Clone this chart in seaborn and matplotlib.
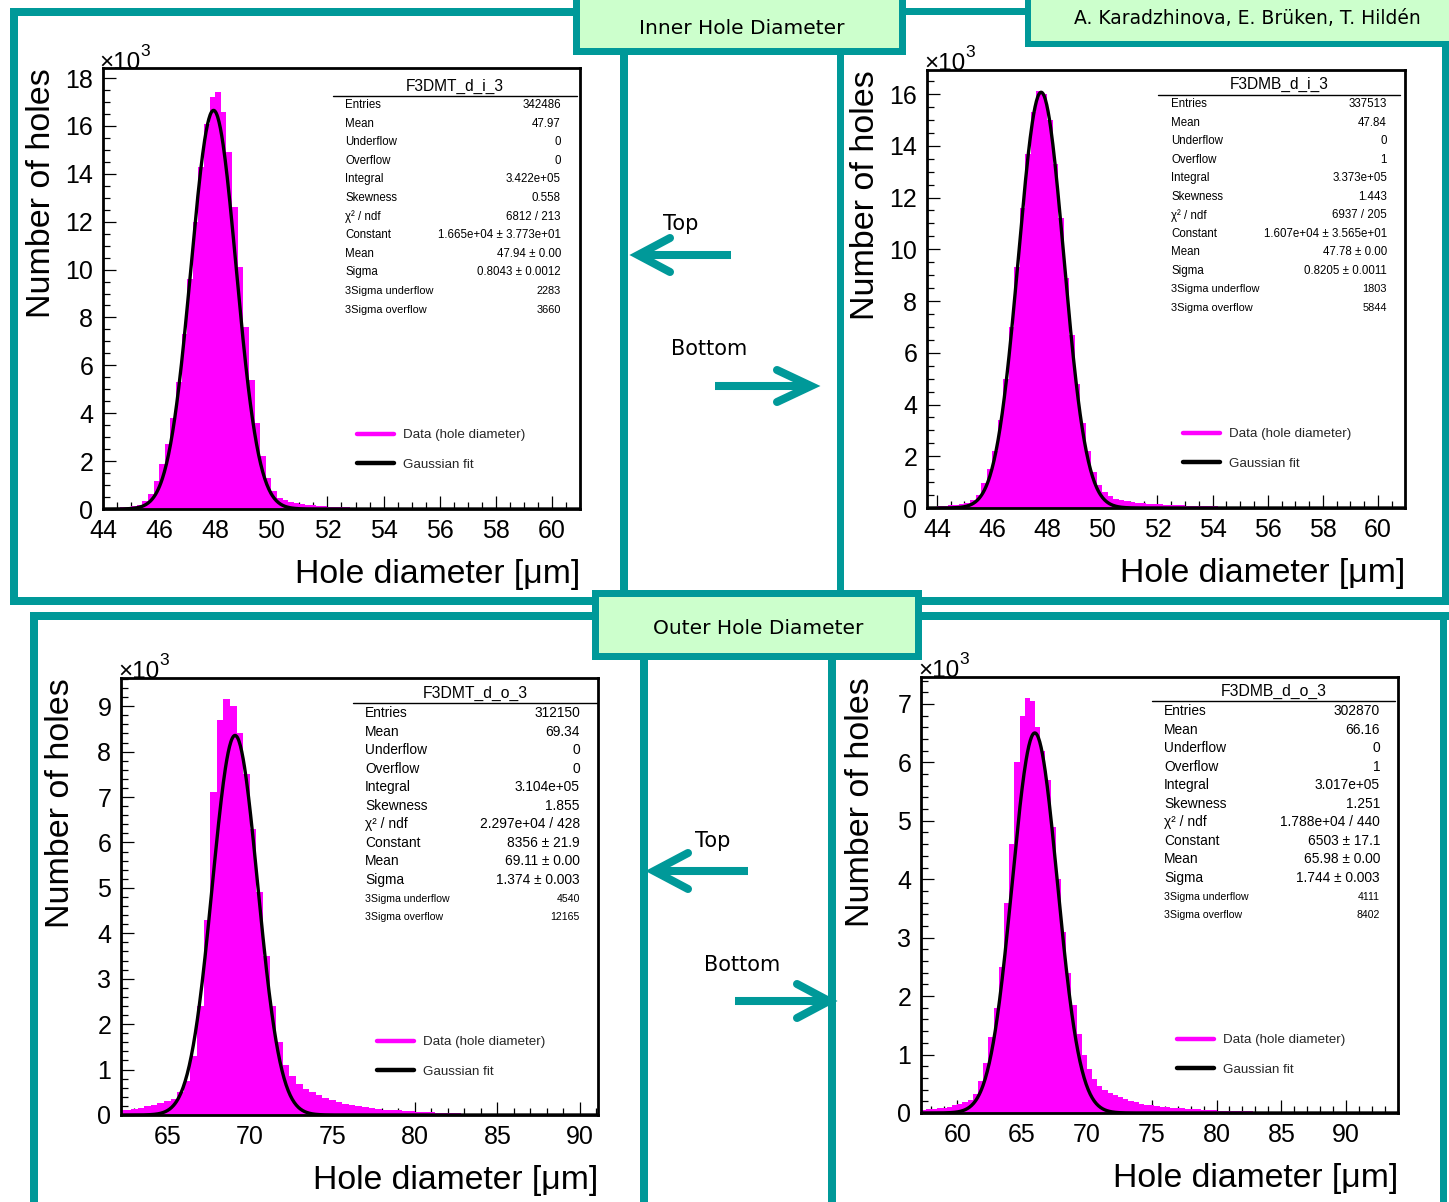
import numpy as np
import pandas as pd
import matplotlib
matplotlib.use("Agg")
import matplotlib.pyplot as plt
import seaborn as sns
from matplotlib.lines import Line2D
from matplotlib.patches import Rectangle
from matplotlib.ticker import MultipleLocator

# ------------------------------------------------------------------ data
STAT_LABELS = ["Entries", "Mean", "Underflow", "Overflow", "Integral", "Skewness",
               "χ² / ndf", "Constant", "Mean", "Sigma", "3Sigma underflow", "3Sigma overflow"]

# Top side, inner diameter
ti_name = "F3DMT_d_i_3"
ti_bin_start, ti_bin_width = 44.0, 0.2
ti_counts_k = [0.04, 0.05, 0.06, 0.07, 0.09, 0.12, 0.18, 0.33, 0.62, 1.15,
               1.9, 2.7, 3.8, 5.3, 7.3, 9.6, 12.0, 14.3, 16.1, 17.2,
               17.4, 16.6, 14.9, 12.6, 10.1, 7.6, 5.4, 3.6, 2.2, 1.3,
               0.75, 0.48, 0.36, 0.29, 0.24, 0.20, 0.17, 0.15, 0.13, 0.11,
               0.10, 0.09, 0.08, 0.07, 0.06, 0.06, 0.05, 0.05, 0.04, 0.04,
               0.03, 0.03, 0.02, 0.02, 0.02, 0.01, 0.01, 0.01]
ti_fit = (16650.0, 47.94, 0.8043)   # Constant, Mean, Sigma
ti_values = ["342486", "47.97", "0", "0", "3.422e+05", "0.558", "6812 / 213",
             "1.665e+04 ± 3.773e+01", "47.94 ± 0.00", "0.8043 ± 0.0012", "2283", "3660"]

# Bottom side, inner diameter
bi_name = "F3DMB_d_i_3"
bi_bin_start, bi_bin_width = 44.0, 0.2
bi_counts_k = [0.08, 0.09, 0.11, 0.13, 0.16, 0.21, 0.30, 0.52, 0.95, 1.5,
               2.2, 3.4, 5.0, 7.0, 9.3, 11.6, 13.7, 15.3, 16.1, 16.0,
               15.0, 13.3, 11.2, 8.9, 6.7, 4.8, 3.3, 2.2, 1.4, 0.9,
               0.60, 0.45, 0.36, 0.30, 0.26, 0.23, 0.21, 0.19, 0.17, 0.15,
               0.14, 0.13, 0.12, 0.11, 0.10, 0.09, 0.08, 0.08, 0.07, 0.06,
               0.06, 0.05, 0.05, 0.04, 0.04, 0.04, 0.03, 0.03, 0.03, 0.02,
               0.02, 0.02, 0.02, 0.01, 0.01, 0.01]
bi_fit = (16070.0, 47.78, 0.8205)
bi_values = ["337513", "47.84", "0", "1", "3.373e+05", "1.443", "6937 / 205",
             "1.607e+04 ± 3.565e+01", "47.78 ± 0.00", "0.8205 ± 0.0011", "1803", "5844"]

# Top side, outer diameter
to_name = "F3DMT_d_o_3"
to_bin_start, to_bin_width = 62.0, 0.4
to_counts_k = [0.10, 0.12, 0.14, 0.16, 0.19, 0.22, 0.26, 0.30, 0.36, 0.50,
               0.75, 1.30, 2.40, 4.30, 7.10, 8.70, 9.15, 9.00, 8.40, 7.50,
               6.30, 4.90, 3.50, 2.40, 1.60, 1.10, 0.85, 0.68, 0.57, 0.50,
               0.44, 0.38, 0.33, 0.29, 0.25, 0.22, 0.19, 0.17, 0.15, 0.13,
               0.12, 0.11, 0.10, 0.09, 0.08, 0.07, 0.06, 0.06, 0.05, 0.05,
               0.04, 0.04, 0.03, 0.03, 0.03, 0.02, 0.02, 0.02, 0.02, 0.01,
               0.01, 0.01, 0.01]
to_fit = (8356.0, 69.11, 1.374)
to_values = ["312150", "69.34", "0", "0", "3.104e+05", "1.855", "2.297e+04 / 428",
             "8356 ± 21.9", "69.11 ± 0.00", "1.374 ± 0.003", "4540", "12165"]

# Bottom side, outer diameter
bo_name = "F3DMB_d_o_3"
bo_bin_start, bo_bin_width = 57.2, 0.4
bo_counts_k = [0.05, 0.06, 0.07, 0.08, 0.09, 0.11, 0.13, 0.15, 0.18, 0.23,
               0.32, 0.55, 0.85, 1.30, 1.80, 2.50, 3.60, 4.60, 6.00, 6.80,
               7.10, 7.05, 6.60, 6.20, 5.70, 4.90, 4.00, 3.10, 2.40, 1.85,
               1.35, 1.00, 0.75, 0.58, 0.47, 0.40, 0.35, 0.31, 0.27, 0.24,
               0.21, 0.18, 0.16, 0.14, 0.13, 0.12, 0.11, 0.10, 0.09, 0.08,
               0.08, 0.07, 0.06, 0.06, 0.05, 0.05, 0.05, 0.04, 0.04, 0.04,
               0.03, 0.03, 0.03, 0.03, 0.02, 0.02, 0.02, 0.02, 0.02, 0.01,
               0.01, 0.01, 0.01, 0.01]
bo_fit = (6503.0, 65.98, 1.744)
bo_values = ["302870", "66.16", "0", "1", "3.017e+05", "1.251", "1.788e+04 / 440",
             "6503 ± 17.1", "65.98 ± 0.00", "1.744 ± 0.003", "4111", "8402"]

# ------------------------------------------------------------------ style
W, H = 1449, 1202
TEAL = "#009999"
GREEN = "#CCFFCC"
MAGENTA = "#FF00FF"

sns.set_theme(style="white")
plt.rcParams['font.family'] = ['Liberation Sans', 'DejaVu Sans']

fig = plt.figure(figsize=(W / 100, H / 100), dpi=100)
fig.patch.set_facecolor("white")


def fx(x):
    return x / W


def fy(y):
    return 1 - y / H


def rect(x0, y0, x1, y1, color, z=3):
    fig.add_artist(Rectangle((fx(x0), fy(y1)), (x1 - x0) / W, (y1 - y0) / H,
                             transform=fig.transFigure, facecolor=color,
                             edgecolor="none", zorder=z))


def fline(xs, ys, **kw):
    fig.add_artist(Line2D([fx(v) for v in xs], [fy(v) for v in ys],
                          transform=fig.transFigure, **kw))


# ------------------------------------------------------------------ panels
panels = [
    dict(name=ti_name, start=ti_bin_start, width=ti_bin_width, counts=ti_counts_k,
         fit=ti_fit, values=ti_values,
         box=(103, 68, 580, 509), xlim=(44, 61), ylim=(0, 18.42),
         xt=(2, 0.5), yt=(2, 0.5), ylab_x=57, xlab_y=559, mult=(99, 69),
         st=dict(x0=333, x1=577, ty=86, ly=96, r0=105, dy=18.6, lx=345, rx=561,
                 fs=8.3, fss=7.9, tfs=11.2),
         leg=(357, 429)),
    dict(name=bi_name, start=bi_bin_start, width=bi_bin_width, counts=bi_counts_k,
         fit=bi_fit, values=bi_values,
         box=(927, 70, 1405, 508), xlim=(43.64, 60.98), ylim=(0, 16.93),
         xt=(2, 0.5), yt=(2, 0.5), ylab_x=881, xlab_y=558, mult=(924, 70),
         st=dict(x0=1158, x1=1400, ty=84, ly=95, r0=104, dy=18.55, lx=1171, rx=1387,
                 fs=8.3, fss=7.9, tfs=11.2),
         leg=(1183, 428)),
    dict(name=to_name, start=to_bin_start, width=to_bin_width, counts=to_counts_k,
         fit=to_fit, values=to_values,
         box=(121, 678, 598, 1115), xlim=(62.2, 91.1), ylim=(0, 9.62),
         xt=(5, 1), yt=(1, 0.2), ylab_x=76, xlab_y=1165, mult=(118, 678),
         st=dict(x0=353, x1=597, ty=693, ly=703, r0=713, dy=18.55, lx=365, rx=580,
                 fs=9.9, fss=7.6, tfs=11.3),
         leg=(377, 1036)),
    dict(name=bo_name, start=bo_bin_start, width=bo_bin_width, counts=bo_counts_k,
         fit=bo_fit, values=bo_values,
         box=(921, 677, 1398, 1113), xlim=(57.2, 94.0), ylim=(0, 7.46),
         xt=(5, 1), yt=(1, 0.2), ylab_x=876, xlab_y=1163, mult=(918, 677),
         st=dict(x0=1152, x1=1395, ty=691, ly=701, r0=711, dy=18.55, lx=1164, rx=1380,
                 fs=9.9, fss=7.6, tfs=11.3),
         leg=(1177, 1034)),
]

for p in panels:
    l, t, r, b = p["box"]
    ax = fig.add_axes([fx(l), fy(b), (r - l) / W, (b - t) / H])
    ax.set_facecolor("white")

    counts = np.asarray(p["counts"], dtype=float)
    n = len(counts)
    centers = p["start"] + p["width"] * (np.arange(n) + 0.5)
    hist_df = pd.DataFrame({"diameter": centers, "count_k": counts})
    sns.histplot(data=hist_df, x="diameter", weights="count_k",
                 binwidth=p["width"], binrange=(p["start"], p["start"] + n * p["width"]),
                 element="step", fill=True, color=MAGENTA, alpha=1.0,
                 linewidth=0, ax=ax)

    C, mu, sig = p["fit"]
    xs = np.linspace(p["xlim"][0], p["xlim"][1], 700)
    fit_df = pd.DataFrame({"diameter": xs,
                           "fit_k": C * np.exp(-0.5 * ((xs - mu) / sig) ** 2) / 1000.0})
    sns.lineplot(data=fit_df, x="diameter", y="fit_k", color="black",
                 linewidth=2.4, ax=ax, estimator=None)

    ax.set_xlim(*p["xlim"])
    ax.set_ylim(*p["ylim"])
    ax.xaxis.set_major_locator(MultipleLocator(p["xt"][0]))
    ax.xaxis.set_minor_locator(MultipleLocator(p["xt"][1]))
    ax.yaxis.set_major_locator(MultipleLocator(p["yt"][0]))
    ax.yaxis.set_minor_locator(MultipleLocator(p["yt"][1]))
    ax.tick_params(which="both", direction="in", top=False, right=False,
                   bottom=True, left=True, color="black", width=0.9)
    ax.tick_params(which="major", length=9.2, labelsize=18, pad=7, labelcolor="black")
    ax.tick_params(which="minor", length=4.8)
    for s in ax.spines.values():
        s.set_color("black")
        s.set_linewidth(2.0)

    ax.set_ylabel("Number of holes", fontsize=24.5, loc="top", color="black")
    ax.yaxis.set_label_coords(fx(p["ylab_x"]), fy(t), transform=fig.transFigure)
    ax.set_xlabel("Hole diameter [μm]", fontsize=24.3, loc="right", color="black")
    ax.xaxis.set_label_coords(fx(r), fy(p["xlab_y"]), transform=fig.transFigure)

    # x10^3 multiplier
    mx, my = p["mult"]
    fig.text(fx(mx), fy(my), "×10", fontsize=17.5, ha="left", va="baseline", color="black")
    fig.text(fx(mx + 41), fy(my - 13), "3", fontsize=12.5, ha="left", va="baseline", color="black")

    # statistics box
    st = p["st"]
    fig.text(fx((st["x0"] + st["x1"]) / 2), fy(st["ty"]), p["name"], fontsize=st["tfs"],
             ha="center", va="center", color="black")
    fline([st["x0"], st["x1"]], [st["ly"], st["ly"]], color="black", lw=1.0, zorder=4)
    for i, (lab, val) in enumerate(zip(STAT_LABELS, p["values"])):
        fs = st["fss"] if i >= 10 else st["fs"]
        yy = st["r0"] + i * st["dy"]
        fig.text(fx(st["lx"]), fy(yy), lab, fontsize=fs, ha="left", va="center", color="black")
        fig.text(fx(st["rx"]), fy(yy), val, fontsize=fs, ha="right", va="center", color="black")

    # legend
    handles = [Line2D([], [], color=MAGENTA, lw=3.2), Line2D([], [], color="black", lw=3.2)]
    ax.legend(handles, ["Data (hole diameter)", "Gaussian fit"], loc="upper left",
              bbox_to_anchor=(fx(p["leg"][0]), fy(p["leg"][1])),
              bbox_transform=fig.transFigure, frameon=False, fontsize=9.6,
              handlelength=2.75, handletextpad=0.7, labelspacing=1.3,
              borderpad=0, borderaxespad=0)

# ------------------------------------------------------------------ frames
# top-left frame
rect(10, 8, 575, 16, TEAL)
rect(10, 8, 18, 605, TEAL)
rect(10, 597, 628, 605, TEAL)
rect(620, 50, 628, 605, TEAL)
# top-right frame
rect(904, 8, 1030, 15, TEAL)
rect(837, 50, 844, 605, TEAL)
rect(837, 597, 1449, 605, TEAL)
rect(1442, 40, 1449, 605, TEAL)
# bottom-left frame
rect(30, 612, 595, 620, TEAL)
rect(30, 612, 38, 1202, TEAL)
rect(640, 655, 648, 1202, TEAL)
# bottom-right frame
rect(920, 612, 1449, 620, TEAL)
rect(828, 655, 836, 1202, TEAL)
rect(1440, 612, 1447, 1202, TEAL)

# header boxes
rect(573, 0, 906, 55, TEAL, z=5)
rect(580, 0, 899, 48, GREEN, z=6)
fig.text(fx(742), fy(28), "Inner Hole Diameter", fontsize=14.5, ha="center", va="center",
         family=["DejaVu Sans"], color="black", zorder=7)

rect(592, 590, 922, 660, TEAL, z=5)
rect(599, 597, 915, 653, GREEN, z=6)
fig.text(fx(758), fy(628), "Outer Hole Diameter", fontsize=14.5, ha="center", va="center",
         family=["DejaVu Sans"], color="black", zorder=7)

rect(1025, 0, 1449, 47, TEAL, z=5)
rect(1031, 0, 1449, 41, GREEN, z=6)
fig.text(fx(1247), fy(18), "A. Karadzhinova, E. Brüken, T. Hildén", fontsize=13.5,
         ha="center", va="center", family=["DejaVu Sans"], color="black", zorder=7)

# ------------------------------------------------------------------ arrows
ARROW_LW = 5.8


def arrow(x_tail, x_tip, y, adx, ady):
    fline([x_tail, x_tip], [y, y], color=TEAL, lw=ARROW_LW, solid_capstyle="butt", zorder=8)
    fline([x_tip + adx, x_tip, x_tip + adx], [y - ady, y, y + ady], color=TEAL, lw=ARROW_LW,
          solid_capstyle="round", solid_joinstyle="miter", zorder=8)


arrow(731, 638, 255, 32, 17)
arrow(715, 811, 386, -34, 16)
arrow(748, 654, 871, 34, 18)
arrow(735, 829, 1001, -32, 17)

for (x, y, s) in [(681, 224, "Top"), (709, 349, "Bottom"), (713, 841, "Top"), (742, 965, "Bottom")]:
    fig.text(fx(x), fy(y), s, fontsize=15, ha="center", va="center",
             family=["DejaVu Sans"], color="black", zorder=8)

fig.savefig("out.png", dpi=100, facecolor="white")
